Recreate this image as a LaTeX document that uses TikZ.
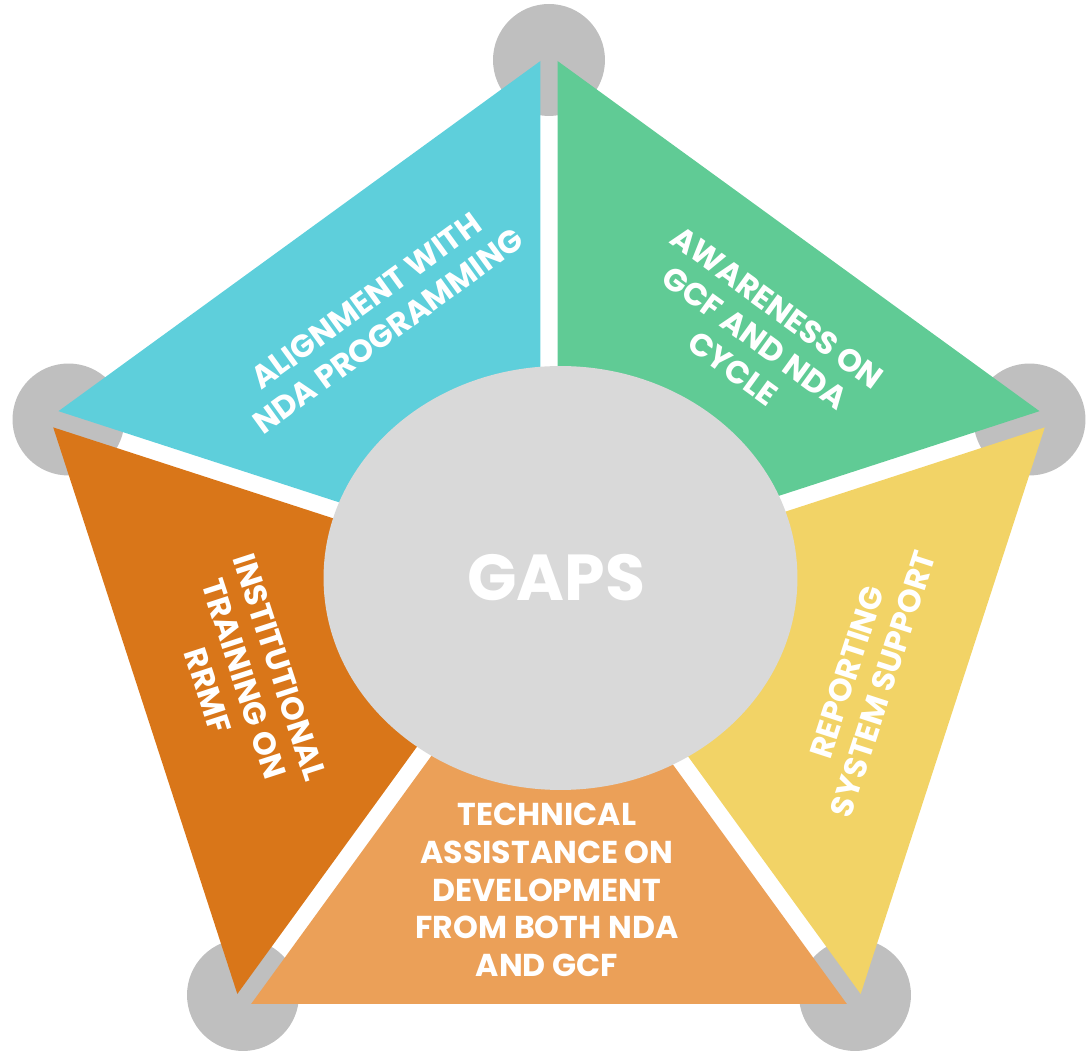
\documentclass[tikz,border=0pt]{standalone}
\usepackage{fontspec}
\setmainfont{Poppins}
\usetikzlibrary{positioning,shapes.geometric}
\definecolor{cblue}{HTML}{5ECFDB}
\definecolor{cgreen}{HTML}{60CB95}
\definecolor{cdark}{HTML}{D97619}
\definecolor{clight}{HTML}{EBA058}
\definecolor{cyellow}{HTML}{F2D366}
\definecolor{cdot}{HTML}{BFBFBF}
\definecolor{chub}{HTML}{D9D9D9}
\tikzset{vdot/.style={circle,fill=cdot,inner sep=0pt,minimum size=2.24cm},
	 hub/.style={ellipse,fill=chub,inner sep=0pt,minimum width=9.48cm,minimum height=8.48cm},
	 lbl/.style={text=white,align=center,font=\bfseries\fontsize{18}{21.5}\selectfont},
	 hubtext/.style={text=white,font=\bfseries\fontsize{37}{40}\selectfont}
	 }

\begin{document}
\begin{tikzpicture}[x=0.02cm,y=0.02cm] % origin at the centre of the pentagon
	\useasboundingbox (-549,-480.5) rectangle (540,579.5);
	\node[vdot] (d0) at (0,519.5) {};
	\node[vdot] (d1) at (-480.5,160) {};
	\node[vdot] (d2) at (-306,-415.5) {};
	\node[vdot] (d3) at (306,-415.5) {};
	\node[vdot] (d4) at (480.5,160) {};
	\begin{scope}
	\clip (90:524.7) -- (162:524.7) -- (234:524.7) -- (306:524.7) -- (18:524.7) -- cycle;
	\fill[cblue,shift={(126:14.5)}] (0,0) -- (90:600) -- (162:600) -- cycle;
	\fill[cdark,shift={(198:14.5)}] (0,0) -- (162:600) -- (234:600) -- cycle;
	\fill[clight,shift={(270:14.5)}] (0,0) -- (234:600) -- (306:600) -- cycle;
	\fill[cyellow,shift={(342:14.5)}] (0,0) -- (306:600) -- (18:600) -- cycle;
	\fill[cgreen,shift={(54:14.5)}] (0,0) -- (18:600) -- (90:600) -- cycle;
	\end{scope}
	\node[hub] (gaps) at (11.5,1.5) {};
	\node[hubtext] (title) at (7,1.5) {GAPS};
	\node[lbl,rotate=36] (align) at (-172,263.5) {ALIGNMENT WITH\\NDA PROGRAMMING};
	\node[lbl,rotate=-36] (aware) at (206,241.5) {AWARENESS ON\\GCF AND NDA\\CYCLE};
	\node[lbl,rotate=-72] (inst) at (-305,-99.5) {INSTITUTIONAL\\TRAINING ON\\RRMF};
	\node[lbl,rotate=72] (report) at (316,-98.5) {REPORTING\\SYSTEM SUPPORT};
	\node[lbl] (tech) at (-2,-310.5) {TECHNICAL\\ASSISTANCE ON\\DEVELOPMENT\\FROM BOTH NDA\\AND GCF};
\end{tikzpicture}
\end{document}
